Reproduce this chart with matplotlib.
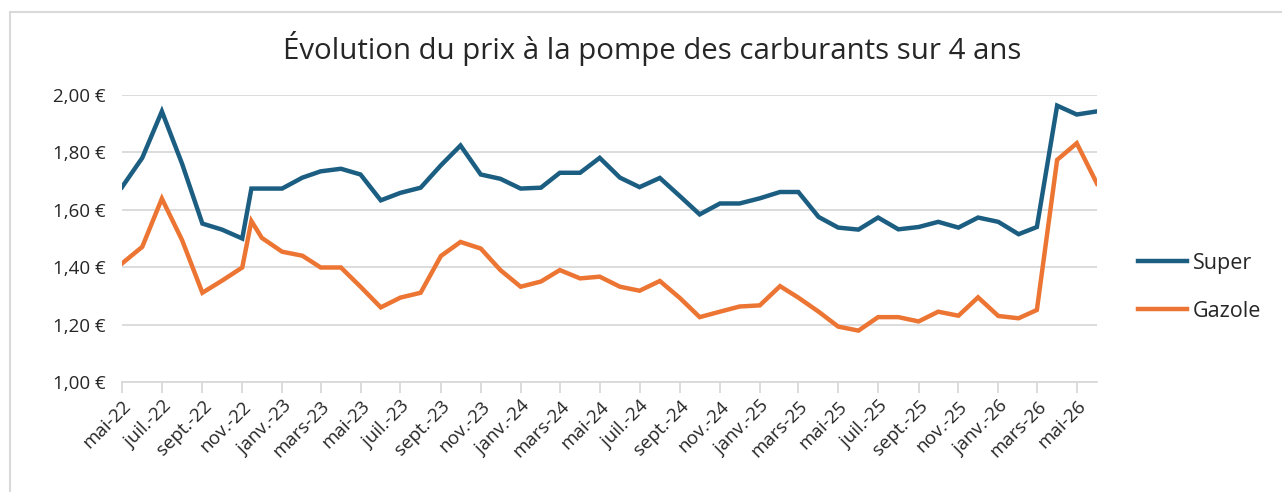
import matplotlib
matplotlib.use("Agg")
import matplotlib.pyplot as plt
from matplotlib.patches import Rectangle
import pandas as pd

plt.rcParams['font.family'] = ['Open Sans', 'DejaVu Sans']

# ---- data ----
dates = list(pd.date_range("2022-05-01", "2026-06-01", freq="MS").strftime("%Y-%m-%d"))
dates.insert(7, "2022-11-15")

super_prix = [1.679, 1.781, 1.943, 1.760, 1.552, 1.531, 1.500, 1.674,
              1.674, 1.674, 1.712, 1.734, 1.743, 1.723, 1.633, 1.659,
              1.677, 1.755, 1.824, 1.723, 1.708, 1.674, 1.677, 1.729,
              1.729, 1.781, 1.712, 1.679, 1.711, 1.647, 1.584, 1.622,
              1.622, 1.640, 1.662, 1.662, 1.575, 1.538, 1.531, 1.573,
              1.532, 1.540, 1.558, 1.538, 1.573, 1.558, 1.515, 1.540,
              1.963, 1.932, 1.943]

gazole_prix = [1.413, 1.471, 1.639, 1.494, 1.311, 1.353, 1.399, 1.561,
               1.502, 1.454, 1.440, 1.399, 1.399, 1.332, 1.260, 1.294,
               1.311, 1.439, 1.488, 1.465, 1.390, 1.332, 1.350, 1.390,
               1.361, 1.367, 1.332, 1.318, 1.352, 1.292, 1.226, 1.245,
               1.263, 1.267, 1.334, 1.294, 1.245, 1.193, 1.179, 1.226,
               1.226, 1.211, 1.245, 1.231, 1.295, 1.230, 1.222, 1.251,
               1.774, 1.832, 1.691]

tick_dates = list(pd.date_range("2022-05-01", "2026-05-01", freq="2MS").strftime("%Y-%m-%d"))
tick_labels = ["mai-22", "juil.-22", "sept.-22", "nov.-22", "janv.-23", "mars-23",
               "mai-23", "juil.-23", "sept.-23", "nov.-23", "janv.-24", "mars-24",
               "mai-24", "juil.-24", "sept.-24", "nov.-24", "janv.-25", "mars-25",
               "mai-25", "juil.-25", "sept.-25", "nov.-25", "janv.-26", "mars-26",
               "mai-26"]

y_ticks = [1.00, 1.20, 1.40, 1.60, 1.80, 2.00]

# ---- figure ----
W, H = 1282, 492
fig = plt.figure(figsize=(W / 100, H / 100), dpi=100)
fig.patches.append(Rectangle((10 / W, -0.1), 1.2, 1 - 12 / H + 0.1, transform=fig.transFigure,
                             fill=False, edgecolor="#d9d9d9", linewidth=1.5))

ax = fig.add_axes([122 / W, 1 - 382 / H, (1097 - 122) / W, (382 - 95) / H])

x = pd.to_datetime(dates)
ax.plot(x, super_prix, color="#1b5e82", linewidth=3.2, label="Super", solid_joinstyle="miter")
ax.plot(x, gazole_prix, color="#ec7533", linewidth=3.2, label="Gazole", solid_joinstyle="miter")

ax.set_xlim(x[0], x[-1])
ax.set_ylim(1.0, 2.0)
ax.set_yticks(y_ticks)
ax.set_yticklabels([f"{v:.2f}".replace(".", ",") + " €" for v in y_ticks],
                   fontsize=13.5, color="#262626")
ax.yaxis.grid(True, color="#d9d9d9", linewidth=1.3)
ax.set_axisbelow(True)

ax.set_xticks(pd.to_datetime(tick_dates))
ax.set_xticklabels(tick_labels, rotation=45, ha="right", rotation_mode="anchor",
                   fontsize=13.5, color="#262626")
ax.tick_params(axis="x", length=8, width=1.3, color="#d9d9d9", pad=3)
ax.tick_params(axis="y", length=0, pad=12)

for s in ["top", "right", "left"]:
    ax.spines[s].set_visible(False)
ax.spines["bottom"].set_color("#d9d9d9")
ax.spines["bottom"].set_linewidth(1.3)

fig.text(652 / W, 1 - 48 / H, "Évolution du prix à la pompe des carburants sur 4 ans",
         ha="center", va="center", fontsize=21.2, color="#262626")

leg = ax.legend(loc="center left", bbox_to_anchor=(1.022, 0.33), frameon=False,
                fontsize=15.5, handlelength=2.3, handletextpad=0.25, labelspacing=1.25,
                labelcolor="#262626")

fig.savefig("out.png", dpi=100)
